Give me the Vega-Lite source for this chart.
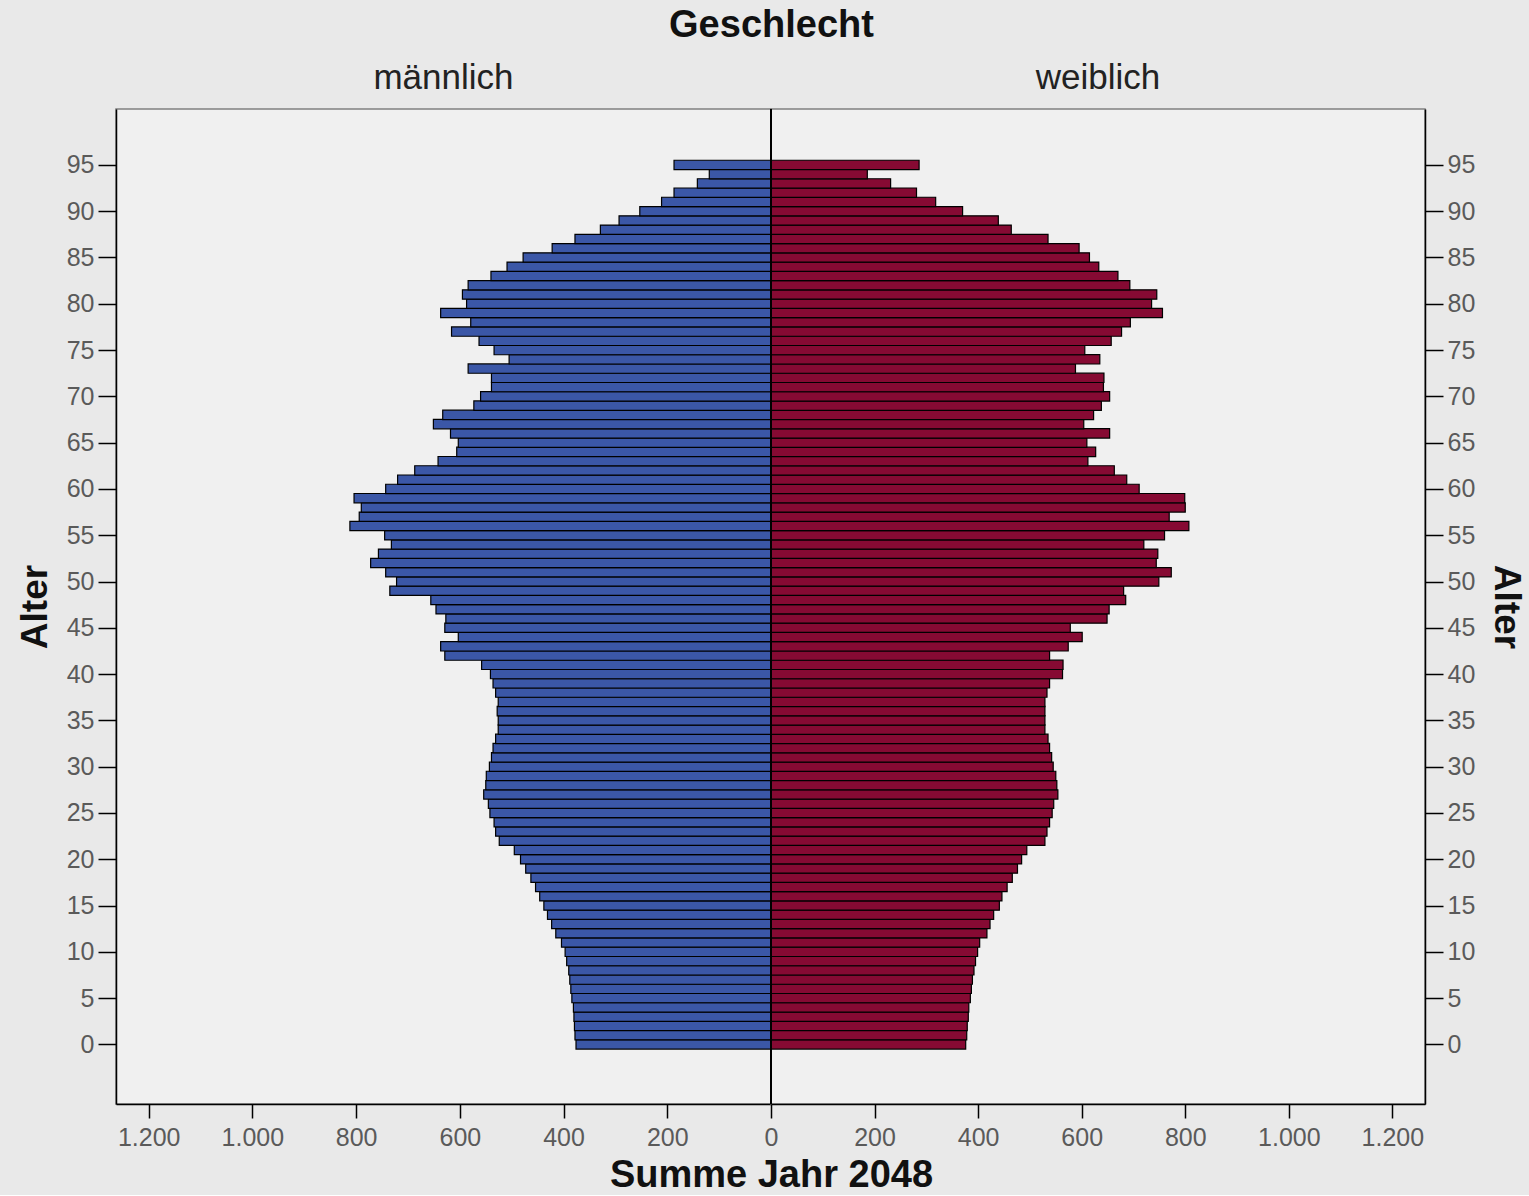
{
  "$schema": "https://vega.github.io/schema/vega-lite/v6.json",
  "background": "#e9e9e9",
  "padding": {"left": 15, "top": 6, "right": 5, "bottom": 0},
  "bounds": "flush",
  "spacing": 0,
  "title": {"text": "Geschlecht", "fontSize": 38, "fontWeight": "bold", "font": "Liberation Sans", "color": "#111111", "anchor": "middle", "dx": 1, "offset": 16},
  "config": {
    "font": "Liberation Sans",
    "view": {"fill": "#f0f0f0", "stroke": "#808080", "strokeWidth": 1.5},
    "axis": {"grid": false, "labelFont": "Liberation Sans", "labelFontSize": 25, "labelColor": "#5a5a5a", "tickColor": "#000000", "tickWidth": 1.5, "domainColor": "#000000", "domainWidth": 1.5, "titleFont": "Liberation Sans", "titleFontSize": 37, "titleFontWeight": "bold", "titleColor": "#111111", "labelPadding": 4},
    "axisX": {"tickSize": 14, "labelFlush": false, "labelPadding": 7, "titlePadding": 6, "titleFontSize": 38},
    "axisY": {"tickSize": 18, "titlePadding": 12}
  },
  "datasets": {
    "maennlich": [
      {"Alter": 0, "Anzahl": 376}, {"Alter": 1, "Anzahl": 378}, {"Alter": 2, "Anzahl": 379}, {"Alter": 3, "Anzahl": 380}, {"Alter": 4, "Anzahl": 381},
      {"Alter": 5, "Anzahl": 384}, {"Alter": 6, "Anzahl": 386}, {"Alter": 7, "Anzahl": 388}, {"Alter": 8, "Anzahl": 390}, {"Alter": 9, "Anzahl": 394},
      {"Alter": 10, "Anzahl": 397}, {"Alter": 11, "Anzahl": 404}, {"Alter": 12, "Anzahl": 415}, {"Alter": 13, "Anzahl": 423}, {"Alter": 14, "Anzahl": 431},
      {"Alter": 15, "Anzahl": 438}, {"Alter": 16, "Anzahl": 446}, {"Alter": 17, "Anzahl": 454}, {"Alter": 18, "Anzahl": 463}, {"Alter": 19, "Anzahl": 473},
      {"Alter": 20, "Anzahl": 483}, {"Alter": 21, "Anzahl": 495}, {"Alter": 22, "Anzahl": 524}, {"Alter": 23, "Anzahl": 531}, {"Alter": 24, "Anzahl": 534},
      {"Alter": 25, "Anzahl": 542}, {"Alter": 26, "Anzahl": 545}, {"Alter": 27, "Anzahl": 554}, {"Alter": 28, "Anzahl": 550}, {"Alter": 29, "Anzahl": 549},
      {"Alter": 30, "Anzahl": 543}, {"Alter": 31, "Anzahl": 539}, {"Alter": 32, "Anzahl": 536}, {"Alter": 33, "Anzahl": 531}, {"Alter": 34, "Anzahl": 526},
      {"Alter": 35, "Anzahl": 526}, {"Alter": 36, "Anzahl": 528}, {"Alter": 37, "Anzahl": 526}, {"Alter": 38, "Anzahl": 531}, {"Alter": 39, "Anzahl": 536},
      {"Alter": 40, "Anzahl": 541}, {"Alter": 41, "Anzahl": 558}, {"Alter": 42, "Anzahl": 629}, {"Alter": 43, "Anzahl": 637}, {"Alter": 44, "Anzahl": 603},
      {"Alter": 45, "Anzahl": 629}, {"Alter": 46, "Anzahl": 627}, {"Alter": 47, "Anzahl": 646}, {"Alter": 48, "Anzahl": 656}, {"Alter": 49, "Anzahl": 735},
      {"Alter": 50, "Anzahl": 722}, {"Alter": 51, "Anzahl": 743}, {"Alter": 52, "Anzahl": 772}, {"Alter": 53, "Anzahl": 757}, {"Alter": 54, "Anzahl": 732},
      {"Alter": 55, "Anzahl": 745}, {"Alter": 56, "Anzahl": 812}, {"Alter": 57, "Anzahl": 794}, {"Alter": 58, "Anzahl": 790}, {"Alter": 59, "Anzahl": 804},
      {"Alter": 60, "Anzahl": 743}, {"Alter": 61, "Anzahl": 720}, {"Alter": 62, "Anzahl": 687}, {"Alter": 63, "Anzahl": 642}, {"Alter": 64, "Anzahl": 606},
      {"Alter": 65, "Anzahl": 603}, {"Alter": 66, "Anzahl": 618}, {"Alter": 67, "Anzahl": 651}, {"Alter": 68, "Anzahl": 633}, {"Alter": 69, "Anzahl": 573},
      {"Alter": 70, "Anzahl": 560}, {"Alter": 71, "Anzahl": 539}, {"Alter": 72, "Anzahl": 539}, {"Alter": 73, "Anzahl": 584}, {"Alter": 74, "Anzahl": 505},
      {"Alter": 75, "Anzahl": 534}, {"Alter": 76, "Anzahl": 563}, {"Alter": 77, "Anzahl": 616}, {"Alter": 78, "Anzahl": 579}, {"Alter": 79, "Anzahl": 637},
      {"Alter": 80, "Anzahl": 587}, {"Alter": 81, "Anzahl": 595}, {"Alter": 82, "Anzahl": 584}, {"Alter": 83, "Anzahl": 540}, {"Alter": 84, "Anzahl": 509},
      {"Alter": 85, "Anzahl": 478}, {"Alter": 86, "Anzahl": 422}, {"Alter": 87, "Anzahl": 378}, {"Alter": 88, "Anzahl": 329}, {"Alter": 89, "Anzahl": 293},
      {"Alter": 90, "Anzahl": 253}, {"Alter": 91, "Anzahl": 211}, {"Alter": 92, "Anzahl": 187}, {"Alter": 93, "Anzahl": 142}, {"Alter": 94, "Anzahl": 119},
      {"Alter": 95, "Anzahl": 187}
    ],
    "weiblich": [
      {"Alter": 0, "Anzahl": 376}, {"Alter": 1, "Anzahl": 378}, {"Alter": 2, "Anzahl": 379}, {"Alter": 3, "Anzahl": 381}, {"Alter": 4, "Anzahl": 382},
      {"Alter": 5, "Anzahl": 385}, {"Alter": 6, "Anzahl": 387}, {"Alter": 7, "Anzahl": 389}, {"Alter": 8, "Anzahl": 392}, {"Alter": 9, "Anzahl": 395},
      {"Alter": 10, "Anzahl": 399}, {"Alter": 11, "Anzahl": 403}, {"Alter": 12, "Anzahl": 417}, {"Alter": 13, "Anzahl": 423}, {"Alter": 14, "Anzahl": 430},
      {"Alter": 15, "Anzahl": 441}, {"Alter": 16, "Anzahl": 446}, {"Alter": 17, "Anzahl": 456}, {"Alter": 18, "Anzahl": 466}, {"Alter": 19, "Anzahl": 476},
      {"Alter": 20, "Anzahl": 484}, {"Alter": 21, "Anzahl": 494}, {"Alter": 22, "Anzahl": 529}, {"Alter": 23, "Anzahl": 533}, {"Alter": 24, "Anzahl": 538},
      {"Alter": 25, "Anzahl": 543}, {"Alter": 26, "Anzahl": 546}, {"Alter": 27, "Anzahl": 554}, {"Alter": 28, "Anzahl": 552}, {"Alter": 29, "Anzahl": 550},
      {"Alter": 30, "Anzahl": 545}, {"Alter": 31, "Anzahl": 542}, {"Alter": 32, "Anzahl": 538}, {"Alter": 33, "Anzahl": 535}, {"Alter": 34, "Anzahl": 529},
      {"Alter": 35, "Anzahl": 529}, {"Alter": 36, "Anzahl": 529}, {"Alter": 37, "Anzahl": 529}, {"Alter": 38, "Anzahl": 533}, {"Alter": 39, "Anzahl": 538},
      {"Alter": 40, "Anzahl": 563}, {"Alter": 41, "Anzahl": 564}, {"Alter": 42, "Anzahl": 538}, {"Alter": 43, "Anzahl": 574}, {"Alter": 44, "Anzahl": 601},
      {"Alter": 45, "Anzahl": 578}, {"Alter": 46, "Anzahl": 649}, {"Alter": 47, "Anzahl": 653}, {"Alter": 48, "Anzahl": 685}, {"Alter": 49, "Anzahl": 681},
      {"Alter": 50, "Anzahl": 749}, {"Alter": 51, "Anzahl": 773}, {"Alter": 52, "Anzahl": 744}, {"Alter": 53, "Anzahl": 747}, {"Alter": 54, "Anzahl": 720},
      {"Alter": 55, "Anzahl": 760}, {"Alter": 56, "Anzahl": 807}, {"Alter": 57, "Anzahl": 769}, {"Alter": 58, "Anzahl": 800}, {"Alter": 59, "Anzahl": 799},
      {"Alter": 60, "Anzahl": 711}, {"Alter": 61, "Anzahl": 687}, {"Alter": 62, "Anzahl": 663}, {"Alter": 63, "Anzahl": 612}, {"Alter": 64, "Anzahl": 627},
      {"Alter": 65, "Anzahl": 610}, {"Alter": 66, "Anzahl": 654}, {"Alter": 67, "Anzahl": 604}, {"Alter": 68, "Anzahl": 623}, {"Alter": 69, "Anzahl": 638},
      {"Alter": 70, "Anzahl": 654}, {"Alter": 71, "Anzahl": 642}, {"Alter": 72, "Anzahl": 643}, {"Alter": 73, "Anzahl": 588}, {"Alter": 74, "Anzahl": 635},
      {"Alter": 75, "Anzahl": 606}, {"Alter": 76, "Anzahl": 657}, {"Alter": 77, "Anzahl": 677}, {"Alter": 78, "Anzahl": 694}, {"Alter": 79, "Anzahl": 756},
      {"Alter": 80, "Anzahl": 735}, {"Alter": 81, "Anzahl": 745}, {"Alter": 82, "Anzahl": 693}, {"Alter": 83, "Anzahl": 670}, {"Alter": 84, "Anzahl": 633},
      {"Alter": 85, "Anzahl": 615}, {"Alter": 86, "Anzahl": 595}, {"Alter": 87, "Anzahl": 535}, {"Alter": 88, "Anzahl": 464}, {"Alter": 89, "Anzahl": 439},
      {"Alter": 90, "Anzahl": 370}, {"Alter": 91, "Anzahl": 318}, {"Alter": 92, "Anzahl": 281}, {"Alter": 93, "Anzahl": 231}, {"Alter": 94, "Anzahl": 186},
      {"Alter": 95, "Anzahl": 286}
    ]
  },
  "hconcat": [
    {
      "width": 655,
      "height": 995,
      "title": {"text": "männlich", "frame": "group", "anchor": "middle", "fontSize": 35, "fontWeight": "normal", "color": "#222222", "offset": 12},
      "data": {"name": "maennlich"},
      "layer": [
        {
          "mark": {"type": "bar", "orient": "horizontal", "size": 9.35, "color": "#3b57a7", "stroke": "#000000", "strokeWidth": 1.2},
          "encoding": {
            "y": {"field": "Alter", "type": "quantitative", "scale": {"domain": [-5.9, 100.5], "nice": false, "zero": false},
                  "axis": {"orient": "left", "values": [0, 5, 10, 15, 20, 25, 30, 35, 40, 45, 50, 55, 60, 65, 70, 75, 80, 85, 90, 95], "title": "Alter"}},
            "x": {"field": "Anzahl", "type": "quantitative", "scale": {"domain": [0, 1263], "reverse": true, "nice": false},
                  "axis": {"values": [200, 400, 600, 800, 1000, 1200], "labelExpr": "replace(format(datum.value, ','), ',', '.')", "title": "Summe Jahr 2048", "titleX": 655, "titleAlign": "center"}},
            "x2": {"datum": 0}
          }
        },
        {
          "mark": {"type": "rule", "color": "#000000", "strokeWidth": 1.5},
          "encoding": {"x": {"datum": 0}}
        }
      ]
    },
    {
      "width": 654,
      "height": 995,
      "title": {"text": "weiblich", "frame": "group", "anchor": "middle", "fontSize": 35, "fontWeight": "normal", "color": "#222222", "offset": 12},
      "data": {"name": "weiblich"},
      "layer": [
        {
          "mark": {"type": "bar", "orient": "horizontal", "size": 9.35, "color": "#860a33", "stroke": "#000000", "strokeWidth": 1.2},
          "encoding": {
            "y": {"field": "Alter", "type": "quantitative", "scale": {"domain": [-5.9, 100.5], "nice": false, "zero": false},
                  "axis": {"orient": "right", "values": [0, 5, 10, 15, 20, 25, 30, 35, 40, 45, 50, 55, 60, 65, 70, 75, 80, 85, 90, 95], "title": "Alter"}},
            "x": {"field": "Anzahl", "type": "quantitative", "scale": {"domain": [0, 1263], "nice": false},
                  "axis": {"values": [0, 200, 400, 600, 800, 1000, 1200], "labelExpr": "replace(format(datum.value, ','), ',', '.')", "title": null}},
            "x2": {"datum": 0}
          }
        },
        {
          "mark": {"type": "rule", "color": "#000000", "strokeWidth": 1.5},
          "encoding": {"x": {"datum": 0}}
        }
      ]
    }
  ]
}
